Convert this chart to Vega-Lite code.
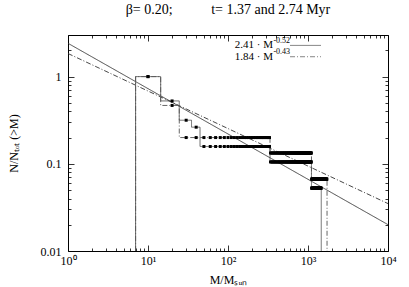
{
"$schema":"https://vega.github.io/schema/vega-lite/v6.json",
"width":320,"height":216,
"autosize":"none",
"padding":{"left":68,"top":35,"right":21,"bottom":36},
"title":{"text":"β= 0.20;\u00a0\u00a0\u00a0\u00a0\u00a0\u00a0\u00a0\u00a0\u00a0\u00a0\u00a0t= 1.37 and 2.74 Myr","font":"Liberation Serif","fontSize":14,"fontWeight":"normal","anchor":"middle","offset":12,"color":"#000"},
"datasets":{
"fits":[{"s":"a","M":1,"f":2.41},{"s":"a","M":10000,"f":0.02005},{"s":"b","M":1,"f":1.84},{"s":"b","M":10000,"f":0.03497}],
"steps":[
{"s":"a","i":0,"M":7,"f":0.01},{"s":"a","i":1,"M":7,"f":1},{"s":"a","i":2,"M":14.4,"f":1},{"s":"a","i":3,"M":14.4,"f":0.526},{"s":"a","i":4,"M":24.6,"f":0.526},{"s":"a","i":5,"M":24.6,"f":0.316},{"s":"a","i":6,"M":35,"f":0.316},{"s":"a","i":7,"M":35,"f":0.263},{"s":"a","i":8,"M":44.7,"f":0.263},{"s":"a","i":9,"M":44.7,"f":0.158},{"s":"a","i":10,"M":335,"f":0.158},{"s":"a","i":11,"M":335,"f":0.105},{"s":"a","i":12,"M":1105,"f":0.105},{"s":"a","i":13,"M":1105,"f":0.0526},{"s":"a","i":14,"M":1465,"f":0.0526},{"s":"a","i":15,"M":1465,"f":0.01},
{"s":"b","i":0,"M":7,"f":0.01},{"s":"b","i":1,"M":7,"f":1},{"s":"b","i":2,"M":14.4,"f":1},{"s":"b","i":3,"M":14.4,"f":0.467},{"s":"b","i":4,"M":24.6,"f":0.467},{"s":"b","i":5,"M":24.6,"f":0.2},{"s":"b","i":6,"M":335,"f":0.2},{"s":"b","i":7,"M":335,"f":0.133},{"s":"b","i":8,"M":1105,"f":0.133},{"s":"b","i":9,"M":1105,"f":0.0667},{"s":"b","i":10,"M":1730,"f":0.0667},{"s":"b","i":11,"M":1730,"f":0.01}
],
"legtext":[{"M":365,"f":2.28,"lab":"2.41 · M"},{"M":365,"f":1.69,"lab":"1.84 · M"}],
"legsup":[{"M":370,"f":2.59,"lab":"-0.52"},{"M":370,"f":1.93,"lab":"-0.43"}],
"legline":[{"s":"a","M":596,"M2":1454,"f":2.28},{"s":"b","M":596,"M2":1454,"f":1.69}],
"dots":[
{"M":10,"f":1},{"M":20,"f":0.526},{"M":30,"f":0.316},{"M":40,"f":0.263},
{"M":50,"f":0.158},{"M":60,"f":0.158},{"M":70,"f":0.158},{"M":80,"f":0.158},{"M":90,"f":0.158},{"M":100,"f":0.158},{"M":110,"f":0.158},{"M":120,"f":0.158},{"M":130,"f":0.158},{"M":140,"f":0.158},{"M":150,"f":0.158},{"M":160,"f":0.158},{"M":170,"f":0.158},{"M":180,"f":0.158},{"M":190,"f":0.158},{"M":200,"f":0.158},{"M":210,"f":0.158},{"M":220,"f":0.158},{"M":230,"f":0.158},{"M":240,"f":0.158},{"M":250,"f":0.158},{"M":260,"f":0.158},{"M":270,"f":0.158},{"M":280,"f":0.158},{"M":290,"f":0.158},{"M":300,"f":0.158},{"M":310,"f":0.158},{"M":320,"f":0.158},{"M":330,"f":0.158},
{"M":340,"f":0.105},{"M":350,"f":0.105},{"M":360,"f":0.105},{"M":370,"f":0.105},{"M":380,"f":0.105},{"M":390,"f":0.105},{"M":400,"f":0.105},{"M":410,"f":0.105},{"M":420,"f":0.105},{"M":430,"f":0.105},{"M":440,"f":0.105},{"M":450,"f":0.105},{"M":460,"f":0.105},{"M":470,"f":0.105},{"M":480,"f":0.105},{"M":490,"f":0.105},{"M":500,"f":0.105},{"M":510,"f":0.105},{"M":520,"f":0.105},{"M":530,"f":0.105},{"M":540,"f":0.105},{"M":550,"f":0.105},{"M":560,"f":0.105},{"M":570,"f":0.105},{"M":580,"f":0.105},{"M":590,"f":0.105},{"M":600,"f":0.105},{"M":610,"f":0.105},{"M":620,"f":0.105},{"M":630,"f":0.105},{"M":640,"f":0.105},{"M":650,"f":0.105},{"M":660,"f":0.105},{"M":670,"f":0.105},{"M":680,"f":0.105},{"M":690,"f":0.105},{"M":700,"f":0.105},{"M":710,"f":0.105},{"M":720,"f":0.105},{"M":730,"f":0.105},{"M":740,"f":0.105},{"M":750,"f":0.105},{"M":760,"f":0.105},{"M":770,"f":0.105},{"M":780,"f":0.105},{"M":790,"f":0.105},{"M":800,"f":0.105},{"M":810,"f":0.105},{"M":820,"f":0.105},{"M":830,"f":0.105},{"M":840,"f":0.105},{"M":850,"f":0.105},{"M":860,"f":0.105},{"M":870,"f":0.105},{"M":880,"f":0.105},{"M":890,"f":0.105},{"M":900,"f":0.105},{"M":910,"f":0.105},{"M":920,"f":0.105},{"M":930,"f":0.105},{"M":940,"f":0.105},{"M":950,"f":0.105},{"M":960,"f":0.105},{"M":970,"f":0.105},{"M":980,"f":0.105},{"M":990,"f":0.105},{"M":1000,"f":0.105},{"M":1010,"f":0.105},{"M":1020,"f":0.105},{"M":1030,"f":0.105},{"M":1040,"f":0.105},{"M":1050,"f":0.105},{"M":1060,"f":0.105},{"M":1070,"f":0.105},{"M":1080,"f":0.105},{"M":1090,"f":0.105},{"M":1100,"f":0.105},
{"M":1110,"f":0.0526},{"M":1120,"f":0.0526},{"M":1130,"f":0.0526},{"M":1140,"f":0.0526},{"M":1150,"f":0.0526},{"M":1160,"f":0.0526},{"M":1170,"f":0.0526},{"M":1180,"f":0.0526},{"M":1190,"f":0.0526},{"M":1200,"f":0.0526},{"M":1210,"f":0.0526},{"M":1220,"f":0.0526},{"M":1230,"f":0.0526},{"M":1240,"f":0.0526},{"M":1250,"f":0.0526},{"M":1260,"f":0.0526},{"M":1270,"f":0.0526},{"M":1280,"f":0.0526},{"M":1290,"f":0.0526},{"M":1300,"f":0.0526},{"M":1310,"f":0.0526},{"M":1320,"f":0.0526},{"M":1330,"f":0.0526},{"M":1340,"f":0.0526},{"M":1350,"f":0.0526},{"M":1360,"f":0.0526},{"M":1370,"f":0.0526},{"M":1380,"f":0.0526},{"M":1390,"f":0.0526},{"M":1400,"f":0.0526},{"M":1410,"f":0.0526},{"M":1420,"f":0.0526},{"M":1430,"f":0.0526},{"M":1440,"f":0.0526},{"M":1450,"f":0.0526},{"M":1460,"f":0.0526},
{"M":10,"f":1},{"M":20,"f":0.467},
{"M":30,"f":0.2},{"M":40,"f":0.2},{"M":50,"f":0.2},{"M":60,"f":0.2},{"M":70,"f":0.2},{"M":80,"f":0.2},{"M":90,"f":0.2},{"M":100,"f":0.2},{"M":110,"f":0.2},{"M":120,"f":0.2},{"M":130,"f":0.2},{"M":140,"f":0.2},{"M":150,"f":0.2},{"M":160,"f":0.2},{"M":170,"f":0.2},{"M":180,"f":0.2},{"M":190,"f":0.2},{"M":200,"f":0.2},{"M":210,"f":0.2},{"M":220,"f":0.2},{"M":230,"f":0.2},{"M":240,"f":0.2},{"M":250,"f":0.2},{"M":260,"f":0.2},{"M":270,"f":0.2},{"M":280,"f":0.2},{"M":290,"f":0.2},{"M":300,"f":0.2},{"M":310,"f":0.2},{"M":320,"f":0.2},{"M":330,"f":0.2},
{"M":340,"f":0.133},{"M":350,"f":0.133},{"M":360,"f":0.133},{"M":370,"f":0.133},{"M":380,"f":0.133},{"M":390,"f":0.133},{"M":400,"f":0.133},{"M":410,"f":0.133},{"M":420,"f":0.133},{"M":430,"f":0.133},{"M":440,"f":0.133},{"M":450,"f":0.133},{"M":460,"f":0.133},{"M":470,"f":0.133},{"M":480,"f":0.133},{"M":490,"f":0.133},{"M":500,"f":0.133},{"M":510,"f":0.133},{"M":520,"f":0.133},{"M":530,"f":0.133},{"M":540,"f":0.133},{"M":550,"f":0.133},{"M":560,"f":0.133},{"M":570,"f":0.133},{"M":580,"f":0.133},{"M":590,"f":0.133},{"M":600,"f":0.133},{"M":610,"f":0.133},{"M":620,"f":0.133},{"M":630,"f":0.133},{"M":640,"f":0.133},{"M":650,"f":0.133},{"M":660,"f":0.133},{"M":670,"f":0.133},{"M":680,"f":0.133},{"M":690,"f":0.133},{"M":700,"f":0.133},{"M":710,"f":0.133},{"M":720,"f":0.133},{"M":730,"f":0.133},{"M":740,"f":0.133},{"M":750,"f":0.133},{"M":760,"f":0.133},{"M":770,"f":0.133},{"M":780,"f":0.133},{"M":790,"f":0.133},{"M":800,"f":0.133},{"M":810,"f":0.133},{"M":820,"f":0.133},{"M":830,"f":0.133},{"M":840,"f":0.133},{"M":850,"f":0.133},{"M":860,"f":0.133},{"M":870,"f":0.133},{"M":880,"f":0.133},{"M":890,"f":0.133},{"M":900,"f":0.133},{"M":910,"f":0.133},{"M":920,"f":0.133},{"M":930,"f":0.133},{"M":940,"f":0.133},{"M":950,"f":0.133},{"M":960,"f":0.133},{"M":970,"f":0.133},{"M":980,"f":0.133},{"M":990,"f":0.133},{"M":1000,"f":0.133},{"M":1010,"f":0.133},{"M":1020,"f":0.133},{"M":1030,"f":0.133},{"M":1040,"f":0.133},{"M":1050,"f":0.133},{"M":1060,"f":0.133},{"M":1070,"f":0.133},{"M":1080,"f":0.133},{"M":1090,"f":0.133},{"M":1100,"f":0.133},
{"M":1110,"f":0.0667},{"M":1120,"f":0.0667},{"M":1130,"f":0.0667},{"M":1140,"f":0.0667},{"M":1150,"f":0.0667},{"M":1160,"f":0.0667},{"M":1170,"f":0.0667},{"M":1180,"f":0.0667},{"M":1190,"f":0.0667},{"M":1200,"f":0.0667},{"M":1210,"f":0.0667},{"M":1220,"f":0.0667},{"M":1230,"f":0.0667},{"M":1240,"f":0.0667},{"M":1250,"f":0.0667},{"M":1260,"f":0.0667},{"M":1270,"f":0.0667},{"M":1280,"f":0.0667},{"M":1290,"f":0.0667},{"M":1300,"f":0.0667},{"M":1310,"f":0.0667},{"M":1320,"f":0.0667},{"M":1330,"f":0.0667},{"M":1340,"f":0.0667},{"M":1350,"f":0.0667},{"M":1360,"f":0.0667},{"M":1370,"f":0.0667},{"M":1380,"f":0.0667},{"M":1390,"f":0.0667},{"M":1400,"f":0.0667},{"M":1410,"f":0.0667},{"M":1420,"f":0.0667},{"M":1430,"f":0.0667},{"M":1440,"f":0.0667},{"M":1450,"f":0.0667},{"M":1460,"f":0.0667},{"M":1470,"f":0.0667},{"M":1480,"f":0.0667},{"M":1490,"f":0.0667},{"M":1500,"f":0.0667},{"M":1510,"f":0.0667},{"M":1520,"f":0.0667},{"M":1530,"f":0.0667},{"M":1540,"f":0.0667},{"M":1550,"f":0.0667},{"M":1560,"f":0.0667},{"M":1570,"f":0.0667},{"M":1580,"f":0.0667},{"M":1590,"f":0.0667},{"M":1600,"f":0.0667},{"M":1610,"f":0.0667},{"M":1620,"f":0.0667},{"M":1630,"f":0.0667},{"M":1640,"f":0.0667},{"M":1650,"f":0.0667},{"M":1660,"f":0.0667},{"M":1670,"f":0.0667},{"M":1680,"f":0.0667},{"M":1690,"f":0.0667},{"M":1700,"f":0.0667},{"M":1710,"f":0.0667},{"M":1720,"f":0.0667}
]
},
"layer":[
{
"encoding":{
"x":{"field":"M","type":"quantitative","scale":{"type":"log","domain":[1,10000],"nice":false},
 "axis":{"orient":"bottom","title":"M/Mₛᵤₙ","titlePadding":5,
 "values":[1,2,3,4,5,6,7,8,9,10,20,30,40,50,60,70,80,90,100,200,300,400,500,600,700,800,900,1000,2000,3000,4000,5000,6000,7000,8000,9000,10000],
 "labelExpr":"datum.value==1?'10⁰':datum.value==10?'10¹':datum.value==100?'10²':datum.value==1000?'10³':datum.value==10000?'10⁴':''",
 "labelOverlap":false,"labelPadding":10,"labelFlush":false,
 "tickSize":{"condition":{"test":"abs(log(datum.value)/LN10-round(log(datum.value)/LN10))<0.001","value":-6},"value":-3}}},
"y":{"field":"f","type":"quantitative","scale":{"type":"log","domain":[0.01,3],"nice":false},
 "axis":{"orient":"left","title":"N/Nₜₒₜ (>M)","titlePadding":20,
 "values":[0.01,0.02,0.03,0.04,0.05,0.06,0.07,0.08,0.09,0.1,0.2,0.3,0.4,0.5,0.6,0.7,0.8,0.9,1,2,3],
 "labelExpr":"datum.value==0.01?'0.01':datum.value==0.1?'0.1':datum.value==1?'1':''",
 "labelOverlap":false,"labelPadding":13,"labelFlush":false,
 "tickSize":{"condition":{"test":"abs(log(datum.value)/LN10-round(log(datum.value)/LN10))<0.001","value":-6},"value":-3}}}
},
"layer":[
{"data":{"name":"fits"},"mark":{"type":"line","stroke":"#333","strokeWidth":0.9,"clip":true},
 "encoding":{"strokeDash":{"field":"s","type":"nominal","scale":{"domain":["a","b"],"range":[[1,0],[5,2,1,2]]},"legend":null}}},
{"data":{"name":"steps"},"mark":{"type":"line","stroke":"#555","strokeWidth":0.9,"clip":true},
 "encoding":{"order":{"field":"i","type":"quantitative"},"strokeDash":{"field":"s","type":"nominal","scale":{"domain":["a","b"],"range":[[1,0],[5,2,1,2]]},"legend":null}}},
{"data":{"name":"dots"},"mark":{"type":"square","size":9,"color":"#000","opacity":1,"clip":true},"encoding":{}},
{"data":{"name":"legline"},"mark":{"type":"rule","stroke":"#777","strokeWidth":0.9},
 "encoding":{"x2":{"field":"M2"},"strokeDash":{"field":"s","type":"nominal","scale":{"domain":["a","b"],"range":[[1,0],[5,2,1,2]]},"legend":null}}},
{"data":{"name":"legtext"},"mark":{"type":"text","align":"right","baseline":"middle","font":"Liberation Serif","fontSize":11,"color":"#000"},
 "encoding":{"text":{"field":"lab"}}},
{"data":{"name":"legsup"},"mark":{"type":"text","align":"left","baseline":"middle","font":"Liberation Serif","fontSize":8,"color":"#000"},
 "encoding":{"text":{"field":"lab"}}}
]
},
{"data":{"name":"fits"},"mark":{"type":"point","opacity":0},
"encoding":{
"x":{"field":"M","type":"quantitative","axis":{"orient":"top","title":null,"labels":false,
 "values":[1,2,3,4,5,6,7,8,9,10,20,30,40,50,60,70,80,90,100,200,300,400,500,600,700,800,900,1000,2000,3000,4000,5000,6000,7000,8000,9000,10000],
 "tickSize":{"condition":{"test":"abs(log(datum.value)/LN10-round(log(datum.value)/LN10))<0.001","value":-6},"value":-3}}},
"y":{"field":"f","type":"quantitative","axis":{"orient":"right","title":null,"labels":false,
 "values":[0.01,0.02,0.03,0.04,0.05,0.06,0.07,0.08,0.09,0.1,0.2,0.3,0.4,0.5,0.6,0.7,0.8,0.9,1,2,3],
 "tickSize":{"condition":{"test":"abs(log(datum.value)/LN10-round(log(datum.value)/LN10))<0.001","value":-6},"value":-3}}}
}}
],
"resolve":{"axis":{"x":"independent","y":"independent"}},
"config":{"font":"Liberation Serif","view":{"stroke":null},
"axis":{"grid":false,"domainColor":"#000","domainWidth":1,"tickColor":"#000","tickWidth":0.8,"labelColor":"#000","titleColor":"#000","labelFont":"Liberation Serif","titleFont":"Liberation Serif","titleFontWeight":"normal","labelFontSize":12,"titleFontSize":12}}
}
